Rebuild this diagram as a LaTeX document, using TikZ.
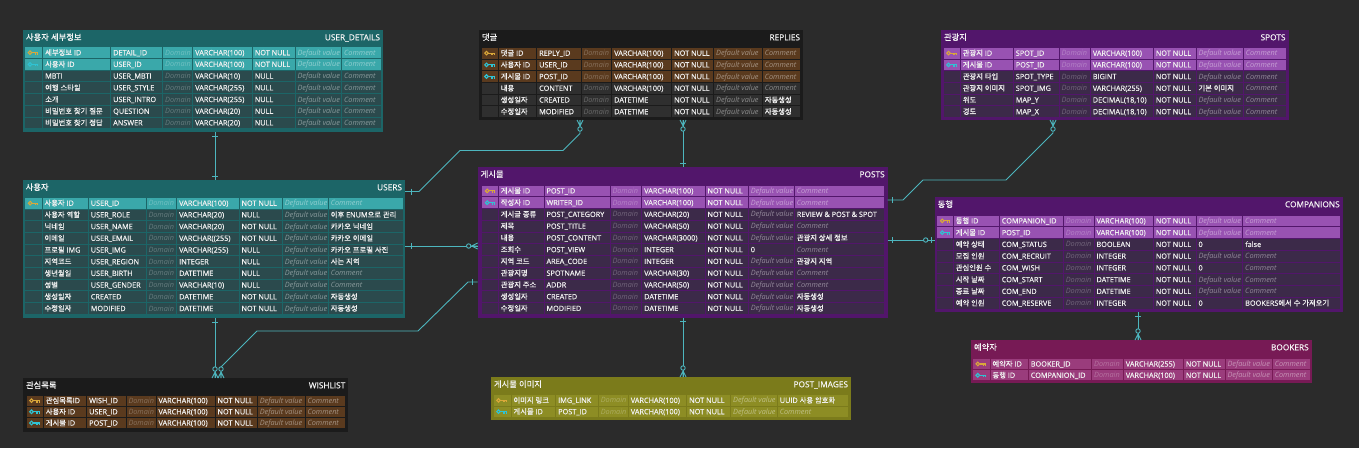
\documentclass[tikz,border=0pt]{standalone}
\usepackage{fontspec}
\setmainfont{Open Sans}[FakeBold=0.45]
\newfontfamily\krfont{Noto Sans CJK KR}[FakeBold=0.45]
\newfontfamily\latfont{Open Sans}[FakeBold=0.45]
\newfontfamily\phfont{Open Sans}
\usetikzlibrary{calc}
\XeTeXinterchartokenstate=1
\newXeTeXintercharclass\HangulCls
\makeatletter
\count@="AC00
\loop\XeTeXcharclass\count@=\HangulCls\ifnum\count@<"D7A3 \advance\count@\@ne\repeat
\makeatother
\XeTeXinterchartoks 0 \HangulCls = {\krfont}
\XeTeXinterchartoks 4095 \HangulCls = {\krfont}
\XeTeXinterchartoks \HangulCls 0 = {\latfont}
\XeTeXinterchartoks \HangulCls 4095 = {\latfont}

\definecolor{bg}{HTML}{2B2B2B}
\definecolor{lnc}{HTML}{4DB6BE}
\definecolor{pkc}{HTML}{D9A83A}
\definecolor{fkc}{HTML}{2FC3D3}
\definecolor{tF}{HTML}{1C6567}
\definecolor{tK}{HTML}{3AA8AA}
\definecolor{tN}{HTML}{2B4A4D}
\definecolor{bF}{HTML}{1B1B1B}
\definecolor{bK}{HTML}{5A3A1E}
\definecolor{bN}{HTML}{2F2F2F}
\definecolor{pF}{HTML}{52166B}
\definecolor{pK}{HTML}{9852B2}
\definecolor{pN}{HTML}{3C2A49}
\definecolor{oF}{HTML}{7B7B1B}
\definecolor{oK}{HTML}{8D8D24}
\definecolor{mF}{HTML}{771A55}
\definecolor{mK}{HTML}{9A3C7C}

\newcommand\rowfont{\fontsize{7.3}{8.5}\selectfont}
\newcommand\ttlfont{\fontsize{8.3}{9.5}\selectfont}

\newcommand\tcols[9]{\def\cA{#1}\def\cB{#2}\def\cC{#3}\def\cD{#4}\def\cE{#5}\def\cF{#6}\def\cG{#7}\def\cH{#8}\def\cI{#9}}
\newcommand\tpal[3]{\def\cframe{#1}\def\ckey{#2}\def\cnorm{#3}}
\newcommand\trows[2]{\def\rtop{#1}\def\rp{#2}}
\newcommand\tframe[6]{%
  \fill[fill=\cframe] (#1,#2) rectangle (#3,#4);
  \node[ttl,anchor=base west] at ({#1+3},{#2+10.3}) {#5};
  \node[ttl,anchor=base east] at ({#3-3},{#2+10.3}) {#6};}
\newcommand\keyicon[1]{%
  \draw[draw=#1,line width=1.1pt] ({\cA+5.5},\ym) circle (1.8);
  \draw[draw=#1,line width=1.1pt] ({\cA+7.3},\ym) -- ({\cA+13.5},\ym)
     ({\cA+11},\ym) -- ({\cA+11},{\ym+2}) ({\cA+13.2},\ym) -- ({\cA+13.2},{\ym+2});}
\newcommand\trow[8]{%
  \pgfmathsetmacro\yt{\rtop+(#1)*\rp}%
  \pgfmathsetmacro\yb{\yt+\rp}%
  \pgfmathsetmacro\ym{\yt+\rp/2}%
  \pgfmathsetmacro\yB{\ym+2.6}%
  \if#2n\def\cfill{\cnorm}\else\def\cfill{\ckey}\fi
  \foreach \lx/\rx in {\cA/\cB,\cB/\cC,\cC/\cD,\cD/\cE,\cE/\cF,\cF/\cG,\cG/\cH,\cH/\cI}{%
    \fill[fill=\cfill] ({\lx+0.5},{\yt+0.5}) rectangle ({\rx-0.5},{\yb-0.5});}%
  \if#2p\keyicon{pkc}\fi
  \if#2f\keyicon{fkc}\fi
  \node[cell] at ({\cB+2.5},\yB) {#3};
  \node[cell] at ({\cC+2.5},\yB) {#4};
  \node[dom] at ({\cD+2.5},\yB) {Domain};
  \node[cell] at ({\cE+2.5},\yB) {#5};
  \node[cell] at ({\cF+2.5},\yB) {#6};
  \if\relax\detokenize{#7}\relax\node[ph] at ({\cG+2.5},\yB) {Default value};\else\node[cell] at ({\cG+2.5},\yB) {#7};\fi
  \if\relax\detokenize{#8}\relax\node[ph] at ({\cH+2.5},\yB) {Comment};\else\node[cell] at ({\cH+2.5},\yB) {#8};\fi
}
\newcommand\tickV[2]{\draw[conn] ($(#1)+(-3,#2)$) -- ($(#1)+(3,#2)$);}
\newcommand\tickH[2]{\draw[conn] ($(#1)+(#2,-3)$) -- ($(#1)+(#2,3)$);}
\newcommand\crowV[2]{%
  \draw[conn] ($(#1)+(-3,0)$) -- ($(#1)+(0,{-6*(#2)})$) -- ($(#1)+(3,0)$) ($(#1)+(0,{-6*(#2)})$) -- (#1);
  \draw[conn,fill=bg] ($(#1)+(0,{-9*(#2)})$) circle (2.2);}
\newcommand\crowH[2]{%
  \draw[conn] ($(#1)+(0,-3)$) -- ($(#1)+({-6*(#2)},0)$) -- ($(#1)+(0,3)$) ($(#1)+({-6*(#2)},0)$) -- (#1);
  \draw[conn,fill=bg] ($(#1)+({-9*(#2)},0)$) circle (2.2);}

\begin{document}
\begin{tikzpicture}[x=1pt,y=-1pt,
  cell/.style={anchor=base west,inner sep=0pt,outer sep=0pt,text=white!94!black,font=\rowfont},
  ph/.style={anchor=base west,inner sep=0pt,outer sep=0pt,text=white,text opacity=0.45,font=\rowfont\phfont\itshape},
  dom/.style={ph,text opacity=0.28},
  ttl/.style={inner sep=0pt,outer sep=0pt,text=white!96!black,font=\ttlfont},
  conn/.style={draw=lnc,line width=0.9pt}]
\useasboundingbox (0,0) rectangle (1359,448);
\fill[bg] (0,0) rectangle (1359,448);

% USER_DETAILS
\tpal{tF}{tK}{tN}
\tcols{24.5}{42.7}{110.7}{162.7}{192.7}{252.3}{295}{341.7}{381.7}
\trows{46.8}{11.7}
\tframe{23}{30}{383}{132}{사용자 세부정보}{USER\_DETAILS}
\trow{0}{p}{세부정보 ID}{DETAIL\_ID}{VARCHAR(100)}{NOT NULL}{}{}
\trow{1}{f}{사용자 ID}{USER\_ID}{VARCHAR(100)}{NOT NULL}{}{}
\trow{2}{n}{MBTI}{USER\_MBTI}{VARCHAR(10)}{NULL}{}{}
\trow{3}{n}{여행 스타일}{USER\_STYLE}{VARCHAR(255)}{NULL}{}{}
\trow{4}{n}{소개}{USER\_INTRO}{VARCHAR(255)}{NULL}{}{}
\trow{5}{n}{비밀번호 찾기 질문}{QUESTION}{VARCHAR(20)}{NULL}{}{}
\trow{6}{n}{비밀번호 찾기 정답}{ANSWER}{VARCHAR(20)}{NULL}{}{}

% USERS
\tcols{24.7}{42}{88.3}{146}{176.7}{239}{282.3}{328.3}{403.3}
\trows{197.3}{11.7}
\tframe{22.7}{180}{405}{318}{사용자}{USERS}
\trow{0}{p}{사용자 ID}{USER\_ID}{VARCHAR(100)}{NOT NULL}{}{}
\trow{1}{n}{사용자 역할}{USER\_ROLE}{VARCHAR(20)}{NULL}{}{이후 ENUM으로 관리}
\trow{2}{n}{닉네임}{USER\_NAME}{VARCHAR(20)}{NOT NULL}{}{카카오 닉네임}
\trow{3}{n}{이메일}{USER\_EMAIL}{VARCHAR((255)}{NOT NULL}{}{카카오 이메일}
\trow{4}{n}{프로필 IMG}{USER\_IMG}{VARCHAR(255)}{NULL}{}{카카오 프로필 사진}
\trow{5}{n}{지역코드}{USER\_REGION}{INTEGER}{NULL}{}{사는 지역}
\trow{6}{n}{생년월일}{USER\_BIRTH}{DATETIME}{NULL}{}{}
\trow{7}{n}{성별}{USER\_GENDER}{VARCHAR(10)}{NULL}{}{}
\trow{8}{n}{생성일자}{CREATED}{DATETIME}{NOT NULL}{}{자동생성}
\trow{9}{n}{수정일자}{MODIFIED}{DATETIME}{NOT NULL}{}{자동생성}

% REPLIES
\tpal{bF}{bK}{bN}
\tcols{481}{498.3}{536.7}{581}{611.7}{671.7}{713.7}{762.3}{800.5}
\trows{47.3}{11.7}
\tframe{479}{30}{803}{120}{댓글}{REPLIES}
\trow{0}{p}{댓글 ID}{REPLY\_ID}{VARCHAR(100)}{NOT NULL}{}{}
\trow{1}{f}{사용자 ID}{USER\_ID}{VARCHAR(100)}{NOT NULL}{}{}
\trow{2}{f}{게시물 ID}{POST\_ID}{VARCHAR(100)}{NOT NULL}{}{}
\trow{3}{n}{내용}{CONTENT}{VARCHAR(100)}{NOT NULL}{}{}
\trow{4}{n}{생성일자}{CREATED}{DATETIME}{NOT NULL}{}{자동생성}
\trow{5}{n}{수정일자}{MODIFIED}{DATETIME}{NOT NULL}{}{자동생성}

% SPOTS
\tpal{pF}{pK}{pN}
\tcols{943}{960.3}{1013.3}{1059}{1090.3}{1153.3}{1196}{1243.3}{1286.7}
\trows{47.3}{11.7}
\tframe{941}{30}{1288.5}{120}{관광지}{SPOTS}
\trow{0}{p}{관광지 ID}{SPOT\_ID}{VARCHAR(100)}{NOT NULL}{}{}
\trow{1}{f}{게시물 ID}{POST\_ID}{VARCHAR(100)}{NOT NULL}{}{}
\trow{2}{n}{관광지 타입}{SPOT\_TYPE}{BIGINT}{NOT NULL}{}{}
\trow{3}{n}{관광지 이미지}{SPOT\_IMG}{VARCHAR(255)}{NOT NULL}{기본 이미지}{}
\trow{4}{n}{위도}{MAP\_Y}{DECIMAL(18,10)}{NOT NULL}{}{}
\trow{5}{n}{경도}{MAP\_X}{DECIMAL(18,10)}{NOT NULL}{}{}

% POSTS
\tcols{481.7}{498.3}{544}{610}{641.7}{705}{748.3}{794.3}{884.3}
\trows{185}{11.75}
\tframe{477.7}{167}{887.7}{317.7}{게시물}{POSTS}
\trow{0}{p}{게시물 ID}{POST\_ID}{VARCHAR(100)}{NOT NULL}{}{}
\trow{1}{f}{작성자 ID}{WRITER\_ID}{VARCHAR(100)}{NOT NULL}{}{}
\trow{2}{n}{게시글 종류}{POST\_CATEGORY}{VARCHAR(20)}{NOT NULL}{}{REVIEW \& POST \& SPOT}
\trow{3}{n}{제목}{POST\_TITLE}{VARCHAR(50)}{NOT NULL}{}{}
\trow{4}{n}{내용}{POST\_CONTENT}{VARCHAR(3000)}{NOT NULL}{}{관광지 상세 정보}
\trow{5}{n}{조회수}{POST\_VIEW}{INTEGER}{NOT NULL}{0}{}
\trow{6}{n}{지역 코드}{AREA\_CODE}{INTEGER}{NOT NULL}{}{관광지 지역}
\trow{7}{n}{관광지명}{SPOTNAME}{VARCHAR(30)}{NOT NULL}{}{}
\trow{8}{n}{관광지 주소}{ADDR}{VARCHAR(50)}{NOT NULL}{}{}
\trow{9}{n}{생성일자}{CREATED}{DATETIME}{NOT NULL}{}{자동생성}
\trow{10}{n}{수정일자}{MODIFIED}{DATETIME}{NOT NULL}{}{자동생성}

% COMPANIONS
\tcols{936.7}{953.3}{999.3}{1063.3}{1094}{1153.3}{1196}{1242.7}{1340.7}
\trows{215}{11.75}
\tframe{934.7}{197}{1342.7}{312}{동행}{COMPANIONS}
\trow{0}{p}{동행 ID}{COMPANION\_ID}{VARCHAR(100)}{NOT NULL}{}{}
\trow{1}{f}{게시물 ID}{POST\_ID}{VARCHAR(100)}{NOT NULL}{}{}
\trow{2}{n}{예약 상태}{COM\_STATUS}{BOOLEAN}{NOT NULL}{0}{false}
\trow{3}{n}{모집 인원}{COM\_RECRUIT}{INTEGER}{NOT NULL}{}{}
\trow{4}{n}{관심인원 수}{COM\_WISH}{INTEGER}{NOT NULL}{0}{}
\trow{5}{n}{시작 날짜}{COM\_START}{DATETIME}{NOT NULL}{}{}
\trow{6}{n}{종료 날짜}{COM\_END}{DATETIME}{NOT NULL}{}{}
\trow{7}{n}{예약 인원}{COM\_RESERVE}{INTEGER}{NOT NULL}{0}{BOOKERS에서 수 가져오기}

% WISHLIST
\tpal{bF}{bK}{bN}
\tcols{26}{43.3}{86.7}{126}{156}{215}{257.3}{305}{345}
\trows{395}{11.2}
\tframe{23}{378}{348.3}{431.5}{관심목록}{WISHLIST}
\trow{0}{p}{관심목록ID}{WISH\_ID}{VARCHAR(100)}{NOT NULL}{}{}
\trow{1}{f}{사용자 ID}{USER\_ID}{VARCHAR(100)}{NOT NULL}{}{}
\trow{2}{f}{게시물 ID}{POST\_ID}{VARCHAR(100)}{NOT NULL}{}{}

% POST_IMAGES
\tpal{oF}{oK}{oK}
\tcols{493}{511}{555.7}{598.3}{628.3}{686.7}{730.7}{777.3}{848.3}
\trows{394.7}{11.3}
\tframe{491}{377}{851}{420}{게시물 이미지}{POST\_IMAGES}
\trow{0}{p}{이미지 링크}{IMG\_LINK}{VARCHAR(100)}{NOT NULL}{}{UUID 사용 암호화}
\trow{1}{f}{게시물 ID}{POST\_ID}{VARCHAR(100)}{NOT NULL}{}{}

% BOOKERS
\tpal{mF}{mK}{mK}
\tcols{972.3}{990}{1028.3}{1091.7}{1123.3}{1183.3}{1225}{1272.3}{1310}
\trows{358.3}{11.3}
\tframe{971}{340}{1311.7}{383.3}{예약자}{BOOKERS}
\trow{0}{p}{예약자 ID}{BOOKER\_ID}{VARCHAR(255)}{NOT NULL}{}{}
\trow{1}{f}{동행 ID}{COMPANION\_ID}{VARCHAR(100)}{NOT NULL}{}{}

% connector end points
\coordinate (udB) at (215,132);
\coordinate (usT) at (215,180);
\coordinate (usR1) at (405,191.5);
\coordinate (rpB1) at (580,120);
\coordinate (psT) at (683,167);
\coordinate (rpB2) at (683,120);
\coordinate (usR2) at (405,246);
\coordinate (psL1) at (477.7,246);
\coordinate (usB) at (215,318);
\coordinate (wlT1) at (215,378);
\coordinate (psL2) at (477.7,282);
\coordinate (wlT2) at (221,378);
\coordinate (psB) at (683,317.7);
\coordinate (piT) at (683,377);
\coordinate (psR1) at (887.7,200);
\coordinate (spB) at (1053,120);
\coordinate (psR2) at (887.7,240);
\coordinate (cpL) at (934.7,240);
\coordinate (cpB) at (1138,312);
\coordinate (bkT) at (1138,340);

% connectors
\draw[conn] (udB) -- (usT);
\draw[conn] (usR1) -- (419,191.5) -- (460,150.5) -- (563,150.5) -- (580,133.5) -- (rpB1);
\draw[conn] (psT) -- (rpB2);
\draw[conn] (usR2) -- (psL1);
\draw[conn] (usB) -- (wlT1);
\draw[conn] (psL2) -- (468,282) -- (418,331) -- (257,331) -- (221,367) -- (wlT2);
\draw[conn] (psB) -- (piT);
\draw[conn] (psR1) -- (903,200) -- (923,180) -- (1006,180) -- (1053,133) -- (spB);
\draw[conn] (psR2) -- (cpL);
\draw[conn] (cpB) -- (bkT);

% end marks
\tickV{udB}{4} \tickV{usT}{-4}
\tickH{usR1}{6} \crowV{rpB1}{-1}
\crowV{rpB2}{-1} \tickV{psT}{-4}
\tickH{usR2}{6} \crowH{psL1}{1}
\tickV{usB}{4.5} \crowV{wlT1}{1}
\tickH{psL2}{-5} \crowV{wlT2}{1}
\tickV{psB}{4} \crowV{piT}{1}
\tickH{psR1}{5} \crowV{spB}{-1}
\tickH{psR2}{5} \tickH{cpL}{-3.5}
\draw[conn,fill=bg] ($(cpL)+(-9,0)$) circle (2.2);
\tickV{cpB}{4} \crowV{bkT}{1}
\end{tikzpicture}
\end{document}
